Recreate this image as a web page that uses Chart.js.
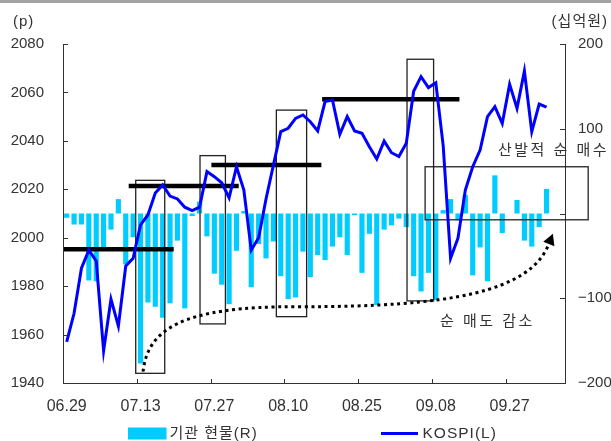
<!DOCTYPE html>
<html>
<head>
<meta charset="utf-8">
<script src="https://cdn.jsdelivr.net/npm/chart.js@4.4.1/dist/chart.umd.min.js"></script>
<style>
  html, body { margin: 0; padding: 0; background: #fff; }
  #wrap { width: 611px; height: 441px; }
</style>
</head>
<body>
<div id="wrap"><canvas id="chart" width="611" height="441"></canvas></div>
<script>
// x axis: one slot per trading day, a label every 10 days
const xTicks = ['06.29', '07.13', '07.27', '08.10', '08.25', '09.08', '09.27'];
const tickEvery = 10;
const slotCount = 68;

// KOSPI close (left axis, p)
const kospi = [
  1957.0, 1968.8, 1987.4, 1994.9, 1990.4, 1953.3, 1974.6, 1963.5, 1988.3, 1991.5,
  2005.3, 2009.4, 2018.5, 2021.8, 2017.2, 2016.0, 2012.6, 2011.2, 2012.6, 2027.3,
  2025.2, 2022.7, 2016.5, 2029.3, 2019.7, 1994.9, 2000.0, 2016.0, 2030.0, 2043.8,
  2045.2, 2049.3, 2050.7, 2047.9, 2044.1, 2056.2, 2056.9, 2042.7, 2050.0, 2044.1,
  2043.1, 2037.6, 2032.5, 2039.9, 2035.1, 2033.5, 2039.0, 2060.5, 2066.5, 2062.0,
  2064.0, 2038.0, 1991.5, 1999.8, 2019.7, 2029.3, 2036.2, 2050.0, 2054.1, 2047.2,
  2063.4, 2053.4, 2068.8, 2043.8, 2055.2, 2053.9
];

// institutional net buying in cash market (right axis, 십억원)
const instNet = [
  -5, -13, -13, -79, -80, -40, -19, 17, -60, -28,
  -177, -105, -110, -123, -106, -32, -112, -3, 14, -27,
  -71, -84, -107, -44, 3, -87, -36, -53, -33, -74,
  -101, -99, -45, -75, -49, -55, -39, -28, -49, -2,
  -70, -24, -108, -19, -14, -6, -16, -74, -92, -70,
  -102, 4, 17, -8, 22, -73, -40, -80, 45, -23,
  0, 16, -32, -39, -16, 29
];

const seriesNames = ['기관 현물(R)', 'KOSPI(L)'];

// annotations, in (day index, KOSPI p) units
const levelLines = [   // [from, to, level]
  [-0.37, 14.5, 1995.2],
  [8.4, 23.3, 2021.4],
  [19.6, 34.5, 2030.0],
  [34.6, 53.2, 2057.2]
];
const boxes = [        // [from, to, low, high]
  [9.35, 13.28, 1944.0, 2023.7],
  [18.06, 21.5, 1964.4, 2033.9],
  [28.4, 32.5, 1967.4, 2052.7],
  [46.1, 49.7, 1973.9, 2073.7],
  [48.55, 70.64, 2007.4, 2029.3]
];
const trendPath = [    // start, then bezier segments [c1, c2, end]
  [10.34, 1944.67],
  [10.98, 1961.89], [15.31, 1971.80], [31.57, 1971.51],
  [51.90, 1971.39], [62.74, 1977.58], [65.31, 1997.41]
];
const notes = [        // [text, day index, level]
  ['산발적 순 매수', 65.95, 2036.0],
  ['순 매도 감소', 56.98, 1965.3]
];

const axisColor = '#333';
const textColor = '#333';
const latin = '"Liberation Sans", Arial, sans-serif';
const mixed = '"Liberation Sans", "Noto Sans CJK KR", sans-serif';

const labels = [];
for (let i = 0; i < slotCount; i++) {
  labels.push(i % tickEvery === 0 ? (xTicks[i / tickEvery] || '') : '');
}

const decor = {
  id: 'decor',
  beforeDraw(chart) {
    const ctx = chart.ctx;
    ctx.save();
    ctx.fillStyle = '#fff';
    ctx.fillRect(0, 0, chart.width, chart.height);
    ctx.fillStyle = '#a3a3a3';
    ctx.fillRect(0, 0, chart.width, 3);
    ctx.restore();
  },
  afterDatasetDraw(chart, args) {
    if (args.index !== 0) return;
    const ctx = chart.ctx;
    const xs = chart.scales.x, ys = chart.scales.y;
    const px = v => xs.getPixelForValue(v);
    const py = v => ys.getPixelForValue(v);
    ctx.save();

    // boxes round the key days
    ctx.strokeStyle = '#222';
    ctx.lineWidth = 1.3;
    boxes.forEach(b => {
      ctx.strokeRect(px(b[0]), py(b[3]), px(b[1]) - px(b[0]), py(b[2]) - py(b[3]));
    });

    // support levels
    ctx.strokeStyle = '#000';
    ctx.lineWidth = 4.5;
    levelLines.forEach(l => {
      ctx.beginPath();
      ctx.moveTo(px(l[0]), py(l[2]));
      ctx.lineTo(px(l[1]), py(l[2]));
      ctx.stroke();
    });

    // dotted trend arrow
    const pts = trendPath.map(p => [px(p[0]), py(p[1])]);
    ctx.lineWidth = 3;
    ctx.setLineDash([3, 3.6]);
    ctx.beginPath();
    ctx.moveTo(pts[0][0], pts[0][1]);
    for (let i = 1; i + 2 < pts.length; i += 3) {
      ctx.bezierCurveTo(pts[i][0], pts[i][1], pts[i + 1][0], pts[i + 1][1], pts[i + 2][0], pts[i + 2][1]);
    }
    ctx.stroke();
    ctx.setLineDash([]);
    const end = pts[pts.length - 1], prev = pts[pts.length - 2];
    const ang = Math.atan2(end[1] - prev[1], end[0] - prev[0]);
    ctx.fillStyle = '#000';
    ctx.beginPath();
    ctx.moveTo(end[0] + 11 * Math.cos(ang), end[1] + 11 * Math.sin(ang));
    ctx.lineTo(end[0] + 6 * Math.cos(ang + Math.PI / 2), end[1] + 6 * Math.sin(ang + Math.PI / 2));
    ctx.lineTo(end[0] + 6 * Math.cos(ang - Math.PI / 2), end[1] + 6 * Math.sin(ang - Math.PI / 2));
    ctx.closePath();
    ctx.fill();
    ctx.restore();
  },
  afterDraw(chart) {
    const ctx = chart.ctx;
    const {left, right, bottom} = chart.chartArea;
    const xs = chart.scales.x, ys = chart.scales.y, yr = chart.scales.y1;
    ctx.save();

    // inward tick marks
    ctx.strokeStyle = axisColor;
    ctx.lineWidth = 1;
    ctx.beginPath();
    ys.ticks.forEach(t => {
      const y = Math.round(ys.getPixelForValue(t.value)) + 0.5;
      ctx.moveTo(left, y); ctx.lineTo(left + 5, y);
    });
    yr.ticks.forEach(t => {
      const y = Math.round(yr.getPixelForValue(t.value)) + 0.5;
      ctx.moveTo(right - 5, y); ctx.lineTo(right, y);
    });
    for (let i = 0; i < slotCount; i += tickEvery) {
      const x = Math.round(xs.getPixelForValue(i - 0.5)) + 0.5;
      ctx.moveTo(x, bottom); ctx.lineTo(x, bottom - 4);
    }
    ctx.stroke();

    // unit titles
    ctx.fillStyle = textColor;
    ctx.textBaseline = 'middle';
    ctx.font = '15px ' + mixed;
    ctx.textAlign = 'left';
    ctx.letterSpacing = '1px';
    ctx.fillText('(p)', 13, 22);
    ctx.textAlign = 'right';
    ctx.fillText('(십억원)', 608, 22);

    // notes
    ctx.textAlign = 'center';
    ctx.letterSpacing = '2.5px';
    notes.forEach(n => {
      ctx.fillText(n[0], xs.getPixelForValue(n[1]), ys.getPixelForValue(n[2]));
    });

    // legend
    const ds = chart.data.datasets;
    ctx.letterSpacing = '1px';
    ctx.textAlign = 'left';
    ctx.fillStyle = ds[0].backgroundColor;
    ctx.fillRect(128, 427.5, 38.5, 12);
    ctx.fillStyle = textColor;
    ctx.fillText(ds[0].label, 169.5, 434);
    ctx.strokeStyle = ds[1].borderColor;
    ctx.lineWidth = 3;
    ctx.beginPath();
    ctx.moveTo(381, 433.5); ctx.lineTo(418, 433.5);
    ctx.stroke();
    ctx.font = '15.5px ' + latin;
    ctx.fillText(ds[1].label, 422.5, 434);
    ctx.restore();
  }
};

new Chart(document.getElementById('chart'), {
  type: 'bar',
  data: {
    labels: labels,
    datasets: [{
      type: 'bar',
      label: seriesNames[0],
      data: instNet,
      yAxisID: 'y1',
      backgroundColor: '#00CCFF',
      barPercentage: 0.7,
      categoryPercentage: 1.0,
      order: 2
    }, {
      type: 'line',
      label: seriesNames[1],
      data: kospi,
      yAxisID: 'y',
      borderColor: '#0000FF',
      borderWidth: 3,
      pointRadius: 0,
      tension: 0,
      fill: false,
      order: 1
    }]
  },
  options: {
    responsive: false,
    maintainAspectRatio: false,
    animation: false,
    layout: { padding: { top: 44, left: 0, right: 0, bottom: 0 } },
    plugins: { legend: { display: false }, tooltip: { enabled: false } },
    scales: {
      x: {
        offset: true,
        min: 0,
        max: slotCount - 1,
        grid: { display: false, drawTicks: false },
        border: { display: true, color: axisColor, width: 1 },
        ticks: {
          autoSkip: false,
          maxRotation: 0,
          padding: 14,
          color: textColor,
          font: { family: latin, size: 16 }
        },
        afterFit: s => { s.height = 58; }
      },
      y: {
        position: 'left',
        min: 1940,
        max: 2080,
        grid: { display: false, drawTicks: false },
        border: { display: true, color: axisColor, width: 1 },
        ticks: {
          stepSize: 20,
          padding: 19,
          color: textColor,
          font: { family: latin, size: 15 },
          callback: v => String(v)
        },
        afterFit: s => { s.width = 63; }
      },
      y1: {
        position: 'right',
        min: -200,
        max: 200,
        grid: { display: false, drawTicks: false },
        border: { display: true, color: axisColor, width: 1 },
        ticks: {
          stepSize: 100,
          padding: 13,
          color: textColor,
          font: { family: latin, size: 15 },
          callback: v => v === 0 ? '' : (v < 0 ? '\u2212' + Math.abs(v) : String(v))
        },
        afterFit: s => { s.width = 46; }
      }
    }
  },
  plugins: [decor]
});
</script>
</body>
</html>
